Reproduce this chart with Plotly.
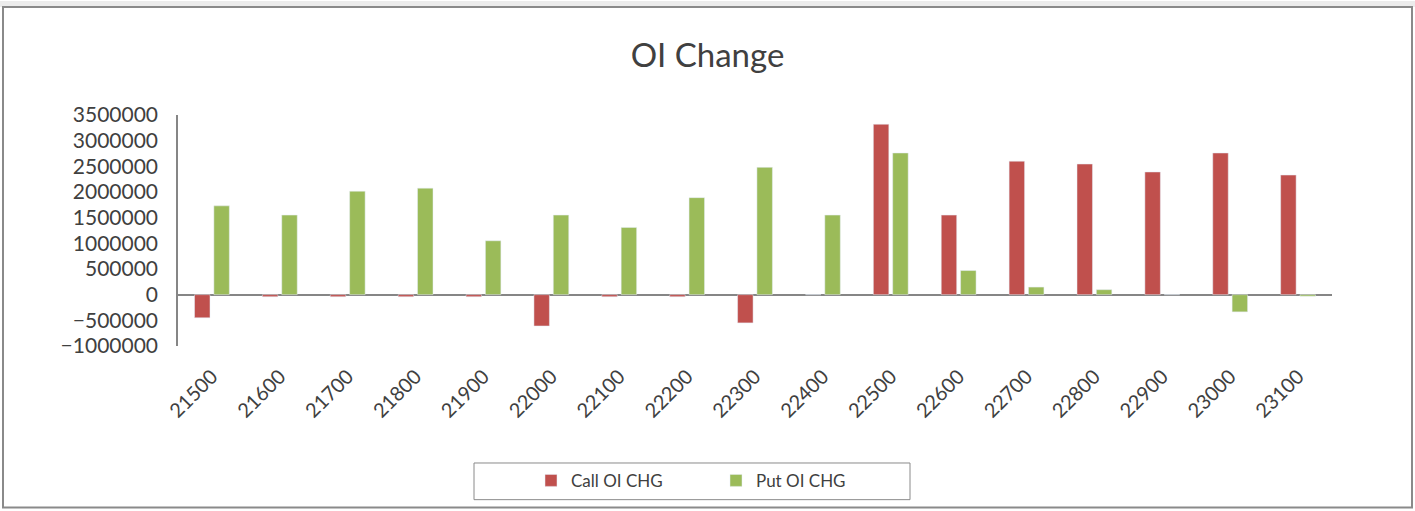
import plotly.graph_objects as go

strikes = ["21500", "21600", "21700", "21800", "21900", "22000", "22100", "22200", "22300",
           "22400", "22500", "22600", "22700", "22800", "22900", "23000", "23100"]
call_oi_chg = [-450000, -40000, -40000, -40000, -40000, -610000, -40000, -40000, -550000,
               0, 3320000, 1550000, 2600000, 2545000, 2390000, 2760000, 2330000]
put_oi_chg = [1730000, 1550000, 2015000, 2075000, 1050000, 1550000, 1310000, 1890000, 2480000,
              1550000, 2760000, 470000, 148000, 97000, 0, -335000, -30000]
y_ticks = [-1000000, -500000, 0, 500000, 1000000, 1500000, 2000000, 2500000, 3000000, 3500000]

W, H = 1415, 511
L, R, T, B = 178, 83, 115, 163
PW, PH = W - L - R, H - T - B

def px(x):
    return (x - L) / PW

def py(y):
    return (H - B - y) / PH

font = "Lato"
txt = "#404040"

fig = go.Figure()
fig.add_trace(go.Bar(x=strikes, y=call_oi_chg, name="Call OI CHG", marker_color="#C0504D"))
fig.add_trace(go.Bar(x=strikes, y=put_oi_chg, name="Put OI CHG", marker_color="#9BBB59"))

fig.update_layout(
    width=W, height=H,
    margin=dict(l=L, r=R, t=T, b=B, pad=0),
    paper_bgcolor="white", plot_bgcolor="white",
    barmode="group", bargap=0.43, bargroupgap=0.2,
    title=dict(text="OI Change", x=0.5, xanchor="center", y=1 - 55 / H, yanchor="middle",
               font=dict(family=font, size=33, color=txt)),
    font=dict(family=font, color=txt),
    xaxis=dict(type="category", showline=False, showgrid=False, ticks="",
               tickangle=-45, tickfont=dict(size=20, color=txt), ticklabelstandoff=14),
    yaxis=dict(range=[-1000000, 3500000], tickvals=y_ticks, tickformat="d",
               showgrid=False, showline=True, linecolor="#868686", linewidth=1.5,
               zeroline=True, zerolinecolor="#868686", zerolinewidth=1.5,
               ticks="", tickfont=dict(size=21, color=txt), ticklabelstandoff=14),
    legend=dict(orientation="h", x=px(531), xanchor="left", y=py(484), yanchor="middle",
                font=dict(size=17, color=txt), entrywidth=140, entrywidthmode="pixels",
                bgcolor="rgba(0,0,0,0)"),
    shapes=[
        dict(type="rect", xref="paper", yref="paper", x0=px(0), x1=px(W), y0=py(0), y1=py(6),
             fillcolor="#ececec", line=dict(width=0), layer="below"),
        dict(type="rect", xref="paper", yref="paper", x0=px(3), x1=px(1412), y0=py(6), y1=py(511),
             fillcolor="rgba(0,0,0,0)", line=dict(color="#8a8a8a", width=2)),
        dict(type="rect", xref="paper", yref="paper", x0=px(474), x1=px(910), y0=py(466), y1=py(503),
             fillcolor="rgba(0,0,0,0)", line=dict(color="#8a8a8a", width=1)),
    ],
)

fig.write_html("out.html")
